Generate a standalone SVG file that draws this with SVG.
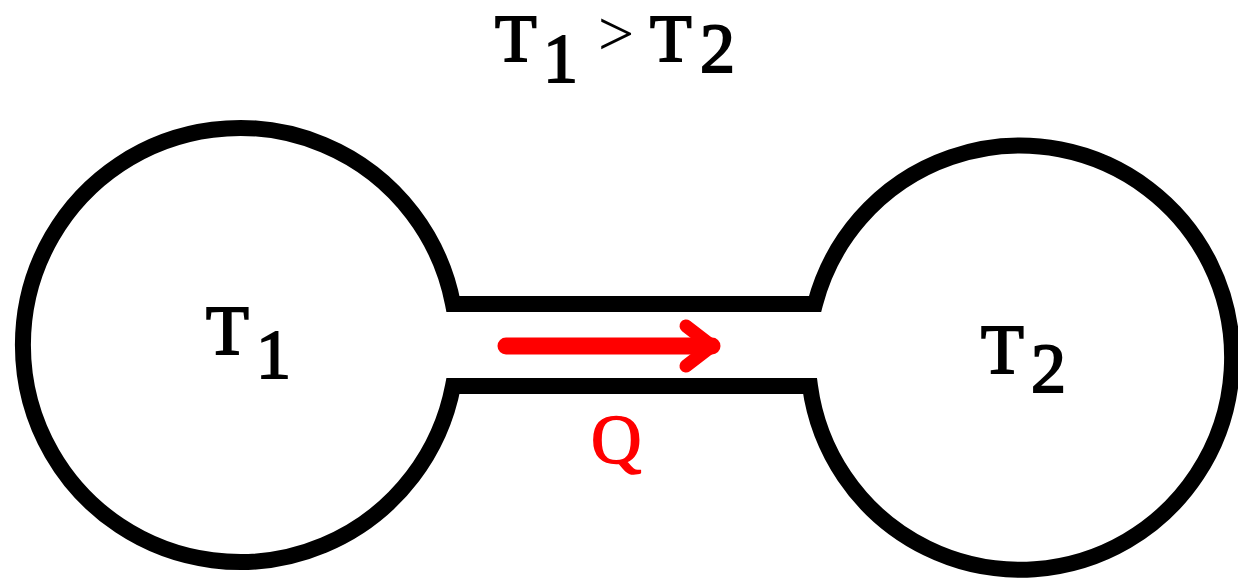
<svg xmlns="http://www.w3.org/2000/svg" width="1238" height="579" viewBox="0 0 1238 579">
  <style>
    .lbl { font-family: 'Liberation Serif', 'Times New Roman', Times, serif; font-weight: 400; font-size: 70px; fill: #000; stroke: #000; stroke-width: 2; }
    .ttl { font-size: 68px; }
    .q { fill: #ff0000; stroke: #ff0000; stroke-width: 1.5; }
    .gt { font-family: 'Liberation Serif', 'Times New Roman', Times, serif; font-size: 64px; fill: #000; }
  </style>
  <rect width="1238" height="579" fill="#ffffff"/>
  <g id="title">
    <text class="lbl ttl" x="495" y="61">T</text>
    <text class="lbl" x="543" y="82">1</text>
    <text class="gt" x="598" y="55">&gt;</text>
    <text class="lbl ttl" x="650" y="61">T</text>
    <text class="lbl" x="700" y="72">2</text>
  </g>
  <g id="vessel">
    <path d="M 453 304 L 815 304 A 212 212 0 1 1 810 386 L 453 386 A 217 217 0 1 1 453 304 Z" fill="none" stroke="#000" stroke-width="16" stroke-linejoin="miter"/>
  </g>
  <g id="reservoir1">
    <text class="lbl" x="206" y="354">T</text>
    <text class="lbl" x="256" y="378">1</text>
  </g>
  <g id="reservoir2">
    <text class="lbl" x="981" y="373">T</text>
    <text class="lbl" x="1031" y="392">2</text>
  </g>
  <g id="connectors">
    <path d="M 506 346 L 712 346" fill="none" stroke="#ff0000" stroke-width="17" stroke-linecap="round"/>
    <path d="M 686 326 L 712 346 L 686 366" fill="none" stroke="#ff0000" stroke-width="13" stroke-linecap="round" stroke-linejoin="round"/>
  </g>
  <g id="heat">
    <text class="lbl q" x="591" y="463">Q</text>
  </g>
</svg>
